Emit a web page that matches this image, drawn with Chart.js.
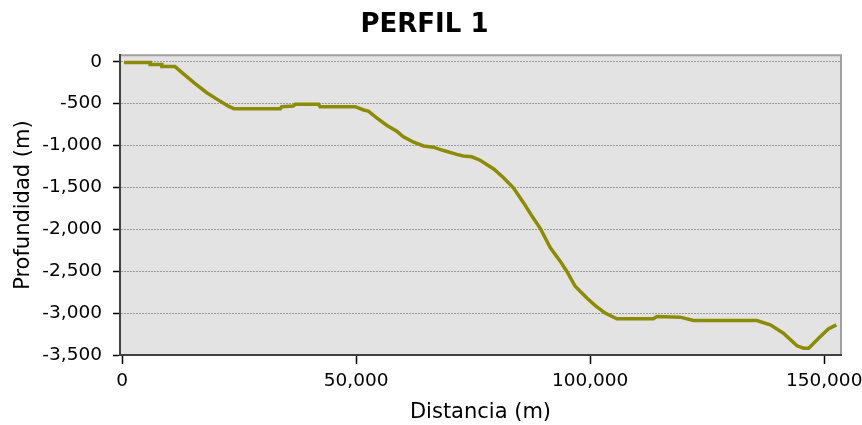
<!DOCTYPE html>
<html>
<head>
<meta charset="utf-8">
<script src="https://cdn.jsdelivr.net/npm/chart.js@4"></script>
<style>
  html, body { margin: 0; padding: 0; background: #ffffff; }
  #wrap { width: 862px; height: 425px; }
</style>
</head>
<body>
<div id="wrap"><canvas id="perfilChart" width="862" height="425"></canvas></div>
<script>
// datos del perfil
const distancia = [
    400, 6000, 6000, 8500, 8500, 11300, 12800, 15600, 18100, 20900,
    22700, 23900, 33800, 34100, 36600, 37000, 42000, 42300, 49800, 51600,
    52600, 54400, 56600, 58700, 60100, 62300, 64400, 66500, 68700, 71500,
    72900, 74700, 76500, 79400, 81500, 83600, 85800, 87600, 89300, 91500,
    93600, 95000, 96800, 99300, 101100, 103200, 105700, 113500, 114300, 119200,
    122100, 135600, 138500, 141300, 144200, 145600, 146700, 149200, 150900, 152600
];
const profundidad = [
    -10, -10, -34, -34, -58, -58, -130, -260, -370, -470,
    -530, -560, -560, -536, -528, -508, -508, -536, -536, -576,
    -590, -670, -760, -830, -895, -960, -1005, -1020, -1060, -1105,
    -1125, -1135, -1175, -1280, -1385, -1505, -1685, -1845, -1985, -2220,
    -2380, -2500, -2680, -2820, -2910, -3000, -3068, -3068, -3040, -3048,
    -3088, -3088, -3140, -3240, -3390, -3418, -3418, -3280, -3190, -3140
];
const ticksX = [0, 50000, 100000, 150000];
const ticksY = [0, -500, -1000, -1500, -2000, -2500, -3000, -3500];

const puntos = distancia.map((d, i) => ({ x: d, y: profundidad[i] }));

// fondo gris del area del grafico + borde superior/derecho
const fondoPlugin = {
    id: "fondo",
    beforeDraw(chart) {
        const a = chart.chartArea;
        const ctx = chart.ctx;
        ctx.save();
        ctx.fillStyle = "#e3e3e3";
        ctx.fillRect(a.left, a.top, a.right - a.left, a.bottom - a.top);
        ctx.strokeStyle = "#a0a0a0";
        ctx.lineWidth = 2;
        ctx.beginPath();
        ctx.moveTo(a.left, a.top);
        ctx.lineTo(a.right, a.top);
        ctx.lineTo(a.right, a.bottom);
        ctx.stroke();
        ctx.restore();
    }
};

const fmt = v => Number(v).toLocaleString("en-US");

new Chart(document.getElementById("perfilChart"), {
    type: "line",
    data: {
        datasets: [{
            label: "Perfil 1",
            data: puntos,
            borderColor: "#8c8c00",
            borderWidth: 3.5,
            pointRadius: 0,
            tension: 0,
            fill: false
        }]
    },
    options: {
        responsive: false,
        animation: false,
        layout: { padding: { left: 0, right: 13, top: 0, bottom: 0 } },
        plugins: {
            legend: { display: false },
            tooltip: { enabled: false },
            title: {
                display: true,
                text: "PERFIL 1",
                color: "#000000",
                font: { family: "DejaVu Sans", size: 26, weight: "bold" },
                padding: { top: 10, bottom: 14 }
            }
        },
        scales: {
            x: {
                type: "linear",
                min: -450,
                max: 153600,
                afterBuildTicks: s => { s.ticks = ticksX.map(v => ({ value: v })); },
                afterFit: s => {
                    s.height = 70;
                    s.paddingLeft = 0;
                    s.paddingRight = 21;
                },
                ticks: {
                    color: "#000000",
                    padding: 6,
                    maxRotation: 0,
                    font: { family: "DejaVu Sans", size: 18.5 },
                    callback: v => fmt(v)
                },
                grid: {
                    drawOnChartArea: false,
                    tickLength: 9,
                    tickColor: "#000000",
                    tickWidth: 1.5
                },
                border: { color: "#404040", width: 2 },
                title: {
                    display: true,
                    text: "Distancia (m)",
                    color: "#000000",
                    font: { family: "DejaVu Sans", size: 21 },
                    padding: { top: 0, bottom: 0 }
                }
            },
            y: {
                min: -3500,
                max: 78,
                afterBuildTicks: s => { s.ticks = ticksY.map(v => ({ value: v })); },
                afterFit: s => { s.width = 120; },
                ticks: {
                    color: "#000000",
                    padding: 11,
                    font: { family: "DejaVu Sans", size: 18.5 },
                    callback: v => fmt(v)
                },
                grid: {
                    color: "#9a9a9a",
                    lineWidth: 1,
                    tickLength: 7,
                    tickColor: "#000000",
                    tickWidth: 1.5
                },
                border: { color: "#404040", width: 2, dash: [2, 1] },
                title: {
                    display: true,
                    text: "Profundidad (m)",
                    color: "#000000",
                    font: { family: "DejaVu Sans", size: 21 },
                    padding: { top: 11, bottom: 0 }
                }
            }
        }
    },
    plugins: [fondoPlugin]
});
</script>
</body>
</html>
